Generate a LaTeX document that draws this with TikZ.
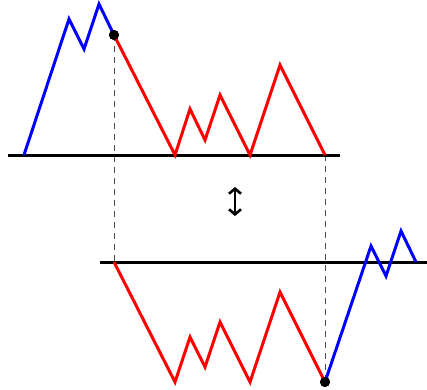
\documentclass[tikz,border=0pt]{standalone}
\usetikzlibrary{arrows.meta}
\begin{document}
\begin{tikzpicture}[x=1pt,y=-1pt,
  blu/.style={draw=blue,line width=3pt,line join=miter},
  rd/.style={draw=red,line width=3pt,line join=miter},
  base/.style={draw=black,line width=3pt},
  guide/.style={draw=black!70,dashed,dash pattern=on 6pt off 5pt,line width=1pt},
  dot/.style={circle,fill=black,inner sep=0pt,minimum size=10pt}]
\useasboundingbox (0,0) rectangle (427,389);
\coordinate (t0) at (8,155); \coordinate (t1) at (340,155);
\node[dot] (d1) at (114,35) {};
\coordinate (b0) at (100,262); \coordinate (b1) at (427,262);
\node[dot] (d2) at (325,382) {};
\coordinate (p) at (325,155);
\coordinate (q) at (114,262);
\draw[guide] (d1.center) -- (q);
\draw[guide] (p) -- (d2.center);
\draw[base] (t0) -- (t1);
\draw[base] (b0) -- (b1);
\draw[blu] (24,155) -- (69,19) -- (84,49) -- (99,4) -- (d1.center);
\draw[rd] (d1.center) -- (175,155) -- (190,109) -- (205,140) -- (220,95) -- (250,155) -- (280,65) -- (p);
\draw[rd] (q) -- (175,382) -- (190,337) -- (205,367) -- (220,322) -- (250,382) -- (280,292) -- (d2.center);
\draw[blu] (d2.center) -- (371,246) -- (386,276) -- (401,231) -- (416,262);
\node[dot] at (114,35) {};
\node[dot] at (325,382) {};
\coordinate (a1) at (235,187); \coordinate (a2) at (235,216);
\draw[line width=2.6pt,{Straight Barb[length=5pt,width=12pt]}-{Straight Barb[length=5pt,width=12pt]}] (a1) -- (a2);
\end{tikzpicture}
\end{document}
